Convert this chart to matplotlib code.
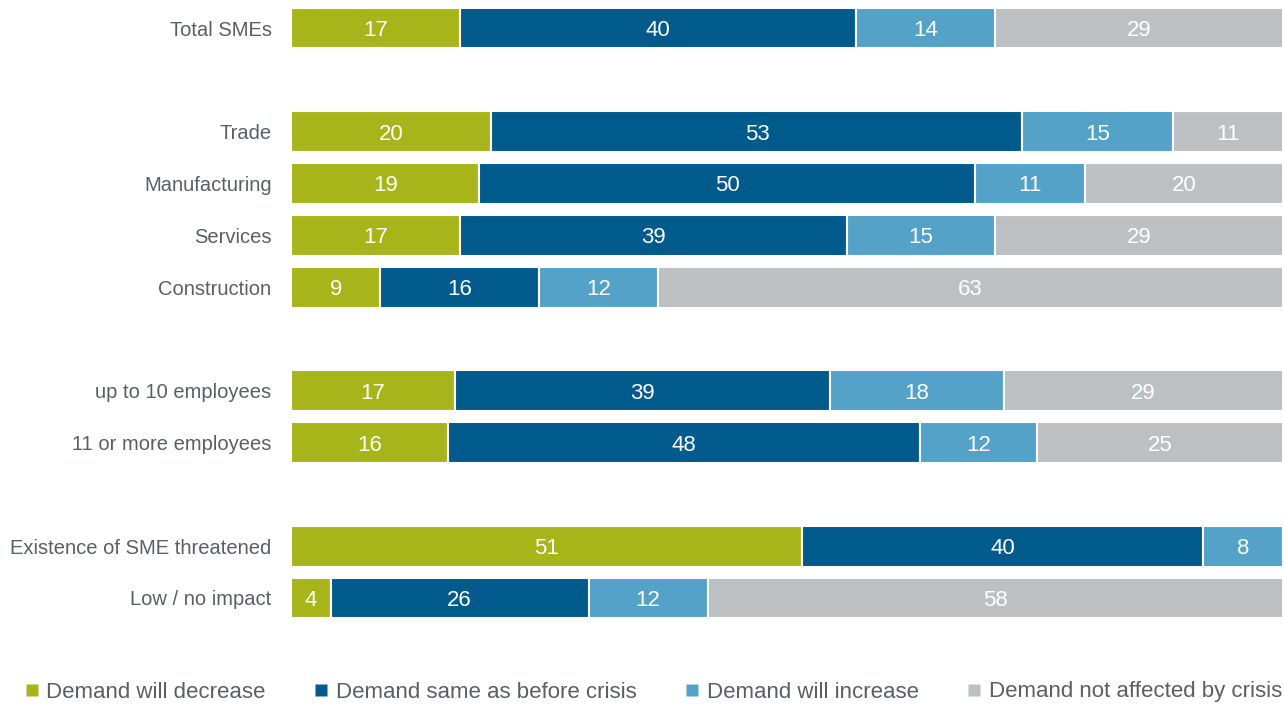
import matplotlib
matplotlib.use('Agg')
import matplotlib.pyplot as plt
from matplotlib.lines import Line2D
import numpy as np

plt.rcParams['font.family'] = ['Liberation Sans', 'DejaVu Sans']

# data (shares in %, as printed on the bars)
categories = ['Total SMEs', 'Trade', 'Manufacturing', 'Services', 'Construction',
              'up to 10 employees', '11 or more employees',
              'Existence of SME threatened', 'Low / no impact']
positions = [0, 2, 3, 4, 5, 7, 8, 10, 11]
series = ['Demand will decrease', 'Demand same as before crisis',
          'Demand will increase', 'Demand not affected by crisis']
decrease = [17, 20, 19, 17, 9, 17, 16, 51, 4]
same = [40, 53, 50, 39, 16, 39, 48, 40, 26]
increase = [14, 15, 11, 15, 12, 18, 12, 8, 12]
not_affected = [29, 11, 20, 29, 63, 29, 25, 0, 58]
colors = ['#A7B51A', '#005A8C', '#55A2C9', '#BDC0C3']
text_color = '#595F66'

values = np.array([decrease, same, increase, not_affected], dtype=float)
shares = values / values.sum(axis=0) * 100  # bars are scaled to 100%

fig = plt.figure(figsize=(12.84, 7.04), dpi=100)
ax = fig.add_axes([291 / 1284, 64 / 704, 992 / 1284, 640 / 704])

left = np.zeros(len(categories))
for i in range(4):
    bars = ax.barh(positions, shares[i], left=left, height=0.79, color=colors[i],
                   edgecolor='white', linewidth=1.5)
    for b, v, s in zip(bars, values[i], shares[i]):
        if v > 0:
            ax.text(b.get_x() + s / 2, b.get_y() + b.get_height() / 2, f'{v:.0f}',
                    ha='center', va='center_baseline', color='white', fontsize=16)
    left += shares[i]

ax.set_xlim(0, 100)
ax.set_ylim(11 + 42 / 51.8, -28 / 51.8)
ax.set_yticks(positions)
ax.set_yticklabels(categories, fontsize=14.5, color=text_color)
ax.tick_params(axis='y', length=0, pad=14)
ax.set_xticks([])
for sp in ax.spines.values():
    sp.set_visible(False)

handles = [Line2D([], [], marker='s', linestyle='none', markersize=8,
                  markerfacecolor=c, markeredgecolor='none') for c in colors]
leg = fig.legend(handles, series, loc='center', bbox_to_anchor=(0.509, 1 - 692 / 704),
                 ncol=4, frameon=False, fontsize=16, handlelength=0.6,
                 handletextpad=0.35, columnspacing=2.2, labelcolor=text_color)

plt.savefig('out.png', dpi=100)
